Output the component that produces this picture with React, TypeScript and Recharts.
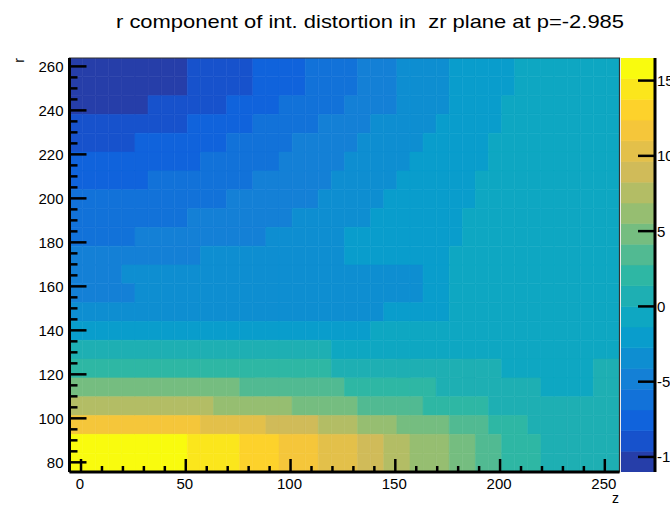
import { ComposedChart, ReferenceArea, Scatter, XAxis, YAxis } from "recharts";

const FONT = "'Liberation Sans', Arial, Helvetica, sans-serif";

// binning of the map: 42 bins in z, 22 bins in r
const zLo = -5.5;
const zStep = 6.25;
const rLo = 75.6;
const rStep = 8.555;

// r component of the integrated distortion, one row per r bin (top row = largest r)
const drRows: number[][] = [
  [-11, -10, -10, -10, -10, -10, -10, -10, -10, -9, -9, -9, -9, -9, -8, -8, -8, -8, -6, -6, -6, -6, -5, -5, -5, -4, -4, -4, -4, -2, -2, -2, -2, -2, -1, -1, -1, -1, -1, -1, -1, -1],
  [-10, -10, -10, -10, -10, -10, -10, -10, -10, -9, -9, -9, -9, -9, -8, -8, -8, -8, -6, -6, -6, -6, -5, -5, -5, -4, -4, -4, -4, -2, -2, -2, -2, -2, -1, -1, -1, -1, -1, -1, -1, -1],
  [-10, -10, -10, -10, -10, -10, -9, -9, -9, -9, -9, -9, -8, -8, -8, -8, -6, -6, -6, -6, -6, -5, -5, -5, -5, -4, -4, -4, -4, -2, -2, -2, -2, -1, -1, -1, -1, -1, -1, -1, -1, -1],
  [-9, -9, -9, -9, -9, -9, -9, -9, -9, -8, -8, -8, -8, -8, -6, -6, -6, -6, -6, -5, -5, -5, -5, -4, -4, -4, -4, -4, -2, -2, -2, -2, -2, -1, -1, -1, -1, -1, -1, -1, -1, -1],
  [-9, -9, -9, -9, -9, -8, -8, -8, -8, -8, -8, -8, -6, -6, -6, -6, -6, -5, -5, -5, -5, -5, -4, -4, -4, -4, -4, -2, -2, -2, -2, -2, -1, -1, -1, -1, -1, -1, -1, -1, -1, -1],
  [-8, -8, -8, -8, -8, -8, -8, -8, -8, -8, -6, -6, -6, -6, -6, -6, -5, -5, -5, -5, -5, -4, -4, -4, -4, -4, -2, -2, -2, -2, -2, -2, -1, -1, -1, -1, -1, -1, -1, -1, -1, -1],
  [-8, -8, -8, -8, -8, -8, -6, -6, -6, -6, -6, -6, -6, -6, -5, -5, -5, -5, -5, -5, -4, -4, -4, -4, -4, -2, -2, -2, -2, -2, -2, -1, -1, -1, -1, -1, -1, -1, -1, -1, -1, -1],
  [-6, -6, -6, -6, -6, -6, -6, -6, -6, -6, -6, -6, -5, -5, -5, -5, -5, -5, -5, -4, -4, -4, -4, -4, -2, -2, -2, -2, -2, -2, -2, -1, -1, -1, -1, -1, -1, -1, -1, -1, -1, -1],
  [-6, -6, -6, -6, -6, -6, -6, -6, -6, -5, -5, -5, -5, -5, -5, -5, -5, -4, -4, -4, -4, -4, -4, -2, -2, -2, -2, -2, -2, -2, -1, -1, -1, -1, -1, -1, -1, -1, -1, -1, -1, -1],
  [-6, -6, -6, -6, -6, -5, -5, -5, -5, -5, -5, -5, -5, -5, -5, -4, -4, -4, -4, -4, -4, -2, -2, -2, -2, -2, -2, -2, -2, -2, -1, -1, -1, -1, -1, -1, -1, -1, -1, -1, -1, -1],
  [-5, -5, -5, -5, -5, -5, -5, -5, -5, -5, -4, -4, -4, -4, -4, -4, -4, -4, -4, -4, -4, -2, -2, -2, -2, -2, -2, -2, -2, -1, -1, -1, -1, -1, -1, -1, -1, -1, -1, -1, -1, -1],
  [-5, -5, -5, -5, -4, -4, -4, -4, -4, -4, -4, -4, -4, -4, -4, -4, -4, -4, -4, -4, -4, -4, -4, -4, -4, -4, -4, -2, -2, -1, -1, -1, -1, -1, -1, -1, -1, -1, -1, -1, -1, -1],
  [-5, -5, -5, -5, -5, -4, -4, -4, -4, -4, -4, -4, -4, -4, -4, -4, -4, -4, -4, -4, -4, -4, -4, -4, -4, -4, -4, -2, -2, -1, -1, -1, -1, -1, -1, -1, -1, -1, -1, -1, -1, -1],
  [-4, -4, -4, -4, -4, -4, -4, -4, -4, -4, -4, -4, -4, -4, -4, -4, -4, -4, -4, -4, -4, -4, -4, -4, -2, -2, -2, -2, -2, -1, -1, -1, -1, -1, -1, -1, -1, -1, -1, -1, -1, -1],
  [-2, -2, -2, -2, -2, -2, -2, -2, -2, -2, -2, -2, -2, -2, -2, -2, -2, -2, -2, -2, -2, -2, -2, -1, -1, -1, -1, -1, -1, -1, -1, -1, -1, -1, -1, -1, -1, -1, -1, -1, -1, -1],
  [1, 1, 1, 1, 1, 1, 1, 1, 1, 1, 1, 1, 1, 1, 1, 1, 1, 1, 1, 1, -1, -1, -1, -1, -1, -1, -1, -1, -1, -1, -1, -1, -1, -1, -1, -1, -1, -1, -1, -1, -1, -1],
  [2, 2, 2, 2, 2, 2, 2, 2, 2, 2, 2, 2, 2, 2, 2, 2, 2, 2, 2, 2, 1, 1, 1, 1, 1, 1, 1, 1, 1, 1, 1, 1, 1, -1, -1, -1, -1, -1, -1, -1, 1, 1],
  [5, 5, 5, 5, 5, 5, 5, 5, 5, 5, 5, 5, 5, 3, 3, 3, 3, 3, 3, 3, 3, 2, 2, 2, 2, 2, 2, 2, 1, 1, 1, 1, 1, 1, 1, 1, -1, -1, -1, -1, 1, 1],
  [8, 8, 8, 8, 8, 8, 8, 8, 8, 8, 8, 6, 6, 6, 6, 6, 6, 5, 5, 5, 5, 5, 3, 3, 3, 3, 3, 2, 2, 2, 2, 2, 1, 1, 1, 1, 1, 1, 1, 1, 1, 1],
  [12, 12, 12, 12, 12, 12, 12, 12, 12, 12, 10, 10, 10, 10, 10, 9, 9, 9, 9, 8, 8, 8, 6, 6, 6, 5, 5, 5, 5, 3, 3, 3, 2, 2, 2, 1, 1, 1, 1, 1, 1, 1],
  [16, 16, 16, 16, 16, 16, 16, 16, 16, 14, 14, 14, 14, 13, 13, 13, 12, 12, 12, 10, 10, 10, 9, 9, 8, 8, 6, 6, 6, 5, 5, 3, 3, 2, 2, 2, 1, 1, 1, 1, 1, 1],
  [16.5, 16, 16, 16, 16, 16, 16, 16, 16, 14, 14, 14, 14, 13, 13, 13, 12, 12, 12, 10, 10, 10, 9, 9, 8, 8, 6, 6, 6, 5, 5, 3, 3, 2, 2, 2, 1, 1, 1, 1, 1, 1],
];

const zTicks = [0, 10, 20, 30, 40, 50, 60, 70, 80, 90, 100, 110, 120, 130, 140, 150, 160, 170, 180, 190, 200, 210, 220, 230, 240, 250];
const rTicks = [80, 85, 90, 95, 100, 105, 110, 115, 120, 125, 130, 135, 140, 145, 150, 155, 160, 165, 170, 175, 180, 185, 190, 195, 200, 205, 210, 215, 220, 225, 230, 235, 240, 245, 250, 255, 260];
const paletteTicks = [-10, -5, 0, 5, 10, 15];

const nContours = 20;

const nZ = drRows[0].length;
const nR = drRows.length;
const zHi = zLo + nZ * zStep;
const rHi = rLo + nR * rStep;

const allValues = drRows.flat();
const vMin = Math.min(...allValues);
const vMax = Math.max(...allValues);
const vStep = (vMax - vMin) / nContours;

// ROOT kBird palette
const birdStops = [0, 0.125, 0.25, 0.375, 0.5, 0.625, 0.75, 0.875, 1];
const birdR = [0.2082, 0.0592, 0.078, 0.0232, 0.1802, 0.5301, 0.8186, 0.9956, 0.9764];
const birdG = [0.1664, 0.3599, 0.5041, 0.6419, 0.7178, 0.7492, 0.7328, 0.7862, 0.9832];
const birdB = [0.5293, 0.8684, 0.8385, 0.7914, 0.6425, 0.4662, 0.3499, 0.1968, 0.0539];

function bird(t: number) {
  let k = 0;
  while (k < birdStops.length - 2 && t > birdStops[k + 1]) k++;
  const f = Math.min(1, Math.max(0, (t - birdStops[k]) / (birdStops[k + 1] - birdStops[k])));
  const mix = (a: number[]) => Math.round(255 * (a[k] + (a[k + 1] - a[k]) * f));
  return `rgb(${mix(birdR)},${mix(birdG)},${mix(birdB)})`;
}

const contourColor = (level: number) => bird((level + 0.99) / nContours);

function levelOf(v: number) {
  return Math.min(nContours - 1, Math.max(0, Math.floor((v - vMin) / vStep)));
}

const cells = drRows.flatMap((row, i) =>
  row.map((v, k) => ({
    z: zLo + (k + 0.5) * zStep,
    r: rLo + (nR - 0.5 - i) * rStep,
    z0: zLo + k * zStep,
    z1: zLo + (k + 1) * zStep,
    r0: rLo + (nR - 1 - i) * rStep,
    r1: rLo + (nR - i) * rStep,
    v,
    color: contourColor(levelOf(v)),
  }))
);

const levels = Array.from({ length: nContours }, (_, i) => ({
  x: 0.5,
  v: vMin + (i + 0.5) * vStep,
  lo: vMin + i * vStep,
  hi: vMin + (i + 1) * vStep,
  color: contourColor(i),
}));

const noMark = () => <g />;

function ZTick({ x, y, payload }: any) {
  const major = payload.value % 50 === 0;
  return (
    <g>
      <line x1={x} y1={y} x2={x} y2={y - (major ? 13 : 6)} stroke="#000" strokeWidth={2.5} />
      {major && (
        <text x={x - 1} y={y + 16.5} textAnchor="middle" fontSize={15} fontFamily={FONT} fill="#000">
          {payload.value}
        </text>
      )}
    </g>
  );
}

function RTick({ x, y, payload }: any) {
  const major = payload.value % 20 === 0;
  return (
    <g>
      <line x1={x} y1={y} x2={x + (major ? 17 : 8)} y2={y} stroke="#000" strokeWidth={2.5} />
      {major && (
        <text x={x - 6} y={y + 5.5} textAnchor="end" fontSize={15} fontFamily={FONT} fill="#000">
          {payload.value}
        </text>
      )}
    </g>
  );
}

function PaletteTick({ x, y, payload }: any) {
  return (
    <g>
      <line x1={x} y1={y} x2={x - 17} y2={y} stroke="#000" strokeWidth={2.5} />
      <text x={x + 2} y={y + 5.5} textAnchor="start" fontSize={15} fontFamily={FONT} fill="#000">
        {payload.value}
      </text>
    </g>
  );
}

export default function App() {
  return (
    <div
      style={{
        position: "fixed",
        left: 0,
        top: 0,
        width: 670,
        height: 505,
        overflow: "hidden",
        background: "#fff",
      }}
    >
      <ComposedChart width={670} height={505} data={cells} margin={{ top: 58, right: 50.5, bottom: 32, left: 68.5 }}>
        {cells.map((c, i) => (
          <ReferenceArea
            key={i}
            x1={c.z0}
            x2={c.z1}
            y1={c.r0}
            y2={c.r1}
            fill={c.color}
            fillOpacity={1}
            stroke={c.color}
            strokeWidth={0.6}
            ifOverflow="hidden"
          />
        ))}
        <ReferenceArea
          x1={zLo}
          x2={zHi}
          y1={rLo}
          y2={rHi}
          fill="none"
          stroke="#333"
          strokeWidth={1.2}
          ifOverflow="visible"
        />
        <Scatter dataKey="r" shape={noMark} isAnimationActive={false} />
        <XAxis
          type="number"
          dataKey="z"
          domain={[zLo, zHi]}
          ticks={zTicks}
          interval={0}
          height={1}
          tickSize={0}
          tickMargin={0}
          tickLine={false}
          axisLine={{ stroke: "#000", strokeWidth: 3 }}
          tick={(p: any) => <ZTick {...p} />}
          allowDataOverflow
        />
        <YAxis
          type="number"
          dataKey="r"
          domain={[rLo, rHi]}
          ticks={rTicks}
          interval={0}
          width={1}
          tickSize={0}
          tickMargin={0}
          tickLine={false}
          axisLine={{ stroke: "#000", strokeWidth: 3 }}
          tick={(p: any) => <RTick {...p} />}
          allowDataOverflow
        />
      </ComposedChart>

      <div style={{ position: "absolute", left: 621, top: 0 }}>
        <ComposedChart width={49} height={505} data={levels} margin={{ top: 58, right: 14, bottom: 33, left: 0 }}>
          {levels.map((l, i) => (
            <ReferenceArea
              key={i}
              x1={0}
              x2={1}
              y1={l.lo}
              y2={l.hi}
              fill={l.color}
              fillOpacity={1}
              stroke={l.color}
              strokeWidth={0.6}
              ifOverflow="hidden"
            />
          ))}
          <Scatter dataKey="v" shape={noMark} isAnimationActive={false} />
          <XAxis type="number" dataKey="x" domain={[0, 1]} hide allowDataOverflow />
          <YAxis
            type="number"
            dataKey="v"
            orientation="right"
            domain={[vMin, vMax]}
            ticks={paletteTicks}
            interval={0}
            width={1}
            tickSize={0}
            tickMargin={0}
            tickLine={false}
            axisLine={{ stroke: "#000", strokeWidth: 3 }}
            tick={(p: any) => <PaletteTick {...p} />}
            allowDataOverflow
          />
        </ComposedChart>
      </div>

      <svg width={670} height={505} style={{ position: "absolute", left: 0, top: 0, pointerEvents: "none" }}>
        <text
          x={116}
          y={28}
          fontSize={19}
          fontFamily={FONT}
          fill="#000"
          textLength={508}
          lengthAdjust="spacingAndGlyphs"
          style={{ whiteSpace: "pre" }}
        >
          {"r component of int. distortion in  zr plane at p=-2.985"}
        </text>
        <text x={24} y={58} fontSize={14} fontFamily={FONT} fill="#000" textAnchor="end" transform="rotate(-90 24 58)">
          r
        </text>
        <text x={619} y={503} fontSize={14} fontFamily={FONT} fill="#000" textAnchor="end">
          z
        </text>
      </svg>
    </div>
  );
}
